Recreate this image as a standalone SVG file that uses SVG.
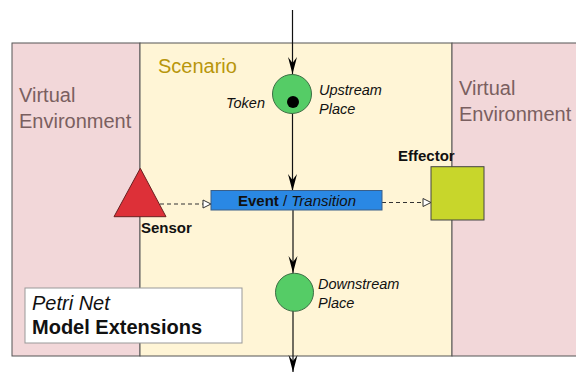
<svg xmlns="http://www.w3.org/2000/svg" width="576" height="373" viewBox="0 0 576 373">
<style>
.panel{stroke:#555;stroke-width:1}
.ve{font-family:"Liberation Sans",Arial,sans-serif;font-size:20px;fill:#7a5f60}
.lbl{font-family:"Liberation Sans",Arial,sans-serif;font-size:14.5px;font-style:italic;fill:#111}
.bold{font-family:"Liberation Sans",Arial,sans-serif;font-size:15px;font-weight:bold;fill:#111}
.place{fill:#55cc66;stroke:#3c6e44;stroke-width:1}
.flow{stroke:#111;stroke-width:1.2;fill:none}
.dash{stroke:#333;stroke-width:1.2;fill:none;stroke-dasharray:4 3}
</style>
<defs>
<marker id="vee" markerUnits="userSpaceOnUse" viewBox="-18 -6 20 12" refX="0" refY="0" markerWidth="20" markerHeight="12" orient="auto">
<path d="M0,0 L-17,-4.5 L-11,0 L-17,4.5 Z" fill="#000"/>
</marker>
<marker id="open" markerUnits="userSpaceOnUse" viewBox="-10 -6 12 12" refX="0" refY="0" markerWidth="12" markerHeight="12" orient="auto">
<path d="M0,0 L-8,-4 L-8,4 Z" fill="#fff" stroke="#333" stroke-width="1"/>
</marker>
</defs>
<g id="env-left">
<rect class="panel" x="12" y="43" width="128" height="313" fill="#f2d7d9"/>
<text class="ve" x="19" y="102">Virtual</text>
<text class="ve" x="19" y="128">Environment</text>
</g>
<g id="scenario">
<rect class="panel" x="140" y="43" width="312" height="313" fill="#fff5d6"/>
<text x="158" y="73" font-family="Liberation Sans, Arial, sans-serif" font-size="20" fill="#b8960c">Scenario</text>
</g>
<g id="env-right">
<rect class="panel" x="452" y="43" width="130" height="313" fill="#f2d7d9"/>
<text class="ve" x="459" y="95">Virtual</text>
<text class="ve" x="459" y="121">Environment</text>
</g>
<g id="connectors">
<line class="flow" x1="292.5" y1="10" x2="292.5" y2="74" marker-end="url(#vee)"/>
<line class="flow" x1="292.5" y1="113" x2="292.5" y2="191" marker-end="url(#vee)"/>
<line class="flow" x1="293" y1="210" x2="293" y2="273" marker-end="url(#vee)"/>
<line class="flow" x1="293" y1="311" x2="293" y2="372" marker-end="url(#vee)"/>
<line class="dash" x1="160" y1="204" x2="211" y2="204" marker-end="url(#open)"/>
<line class="dash" x1="382" y1="202.5" x2="431" y2="202.5" marker-end="url(#open)"/>
</g>
<g id="upstream-place">
<circle class="place" cx="292" cy="94" r="19.5"/>
<circle cx="293" cy="102" r="6" fill="#000"/>
<text class="lbl" x="226" y="108">Token</text>
<text class="lbl" x="319" y="95">Upstream</text>
<text class="lbl" x="319" y="114">Place</text>
</g>
<g id="transition">
<rect x="211" y="190.5" width="171" height="19.5" fill="#2a88e4" stroke="#3a5f88" stroke-width="1"/>
<text x="297" y="205.5" text-anchor="middle" font-family="Liberation Sans, Arial, sans-serif" font-size="15" fill="#111"><tspan font-weight="bold">Event</tspan> / <tspan font-style="italic">Transition</tspan></text>
</g>
<g id="sensor">
<polygon points="140.3,168.3 166,216.7 114,216.7" fill="#dd3038" stroke="#6a2020" stroke-width="1"/>
<text class="bold" x="141" y="233">Sensor</text>
</g>
<g id="effector">
<rect x="431" y="166.7" width="53" height="53.3" fill="#c8d62b" stroke="#444" stroke-width="1"/>
<text class="bold" x="398" y="161">Effector</text>
</g>
<g id="downstream-place">
<circle class="place" cx="294.5" cy="292.3" r="19"/>
<text class="lbl" x="318" y="288.5">Downstream</text>
<text class="lbl" x="318" y="307.5">Place</text>
</g>
<g id="legend">
<rect x="25" y="288" width="217" height="55" fill="#fff" stroke="#999" stroke-width="1"/>
<text x="32" y="310" font-family="Liberation Sans, Arial, sans-serif" font-size="20" font-style="italic" fill="#111">Petri Net</text>
<text x="32" y="333.5" font-family="Liberation Sans, Arial, sans-serif" font-size="20" font-weight="bold" fill="#111">Model Extensions</text>
</g>
</svg>
